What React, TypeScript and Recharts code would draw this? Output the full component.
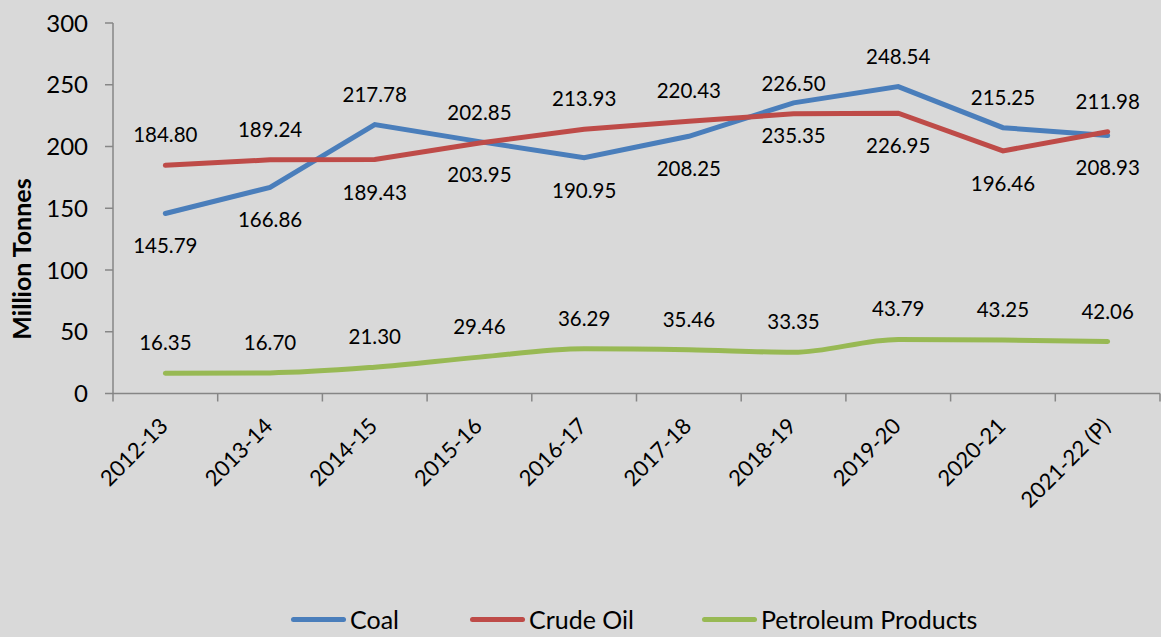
import React from 'react';
import { LineChart, Line, XAxis, YAxis } from 'recharts';

const years = ['2012-13', '2013-14', '2014-15', '2015-16', '2016-17', '2017-18', '2018-19', '2019-20', '2020-21', '2021-22 (P)'];
const coal = [145.79, 166.86, 217.78, 203.95, 190.95, 208.25, 235.35, 248.54, 215.25, 208.93];
const crudeOil = [184.80, 189.24, 189.43, 202.85, 213.93, 220.43, 226.50, 226.95, 196.46, 211.98];
const petroleum = [16.35, 16.70, 21.30, 29.46, 36.29, 35.46, 33.35, 43.79, 43.25, 42.06];
const yTicks = [0, 50, 100, 150, 200, 250, 300];

// where each value label sits relative to its point
const coalLabelSide = ['down', 'down', 'up', 'down', 'down', 'down', 'down', 'up', 'up', 'down'];
const crudeLabelSide = ['up', 'up', 'down', 'up', 'up', 'up', 'up', 'down', 'down', 'up'];
const petroLabelSide = ['up', 'up', 'up', 'up', 'up', 'up', 'up', 'up', 'up', 'up'];

const data = years.map((year, i) => ({
  year,
  coal: coal[i],
  crude: crudeOil[i],
  petro: petroleum[i],
}));

const W = 1161;
const H = 637;
const AXIS_W = 113;
const PLOT_TOP = 23;
const PLOT_BOTTOM = 393.5;
const RIGHT = 1;
const BAND = (W - AXIS_W - RIGHT) / years.length;
const FONT = 'Lato, "Open Sans", sans-serif';
const GRAY = '#868686';

const makeLabel = (sides: string[]) => (props: any) => {
  const { x, y, value, index } = props;
  const dy = sides[index] === 'up' ? -31 : 32;
  return (
    <text x={x} y={y + dy} textAnchor="middle" dominantBaseline="central" fontSize={20.5} fill="#000" fontFamily={FONT}>
      {Number(value).toFixed(2)}
    </text>
  );
};

const XTick = (props: any) => {
  const { x, y, payload, index } = props;
  const left = x - BAND / 2;
  const ax = x + 4;
  const ay = y + 34;
  return (
    <g>
      <line x1={left} y1={y} x2={left} y2={y + 8} stroke={GRAY} strokeWidth={1.5} />
      {index === years.length - 1 && (
        <line x1={x + BAND / 2} y1={y} x2={x + BAND / 2} y2={y + 8} stroke={GRAY} strokeWidth={1.5} />
      )}
      <text
        x={ax}
        y={ay}
        textAnchor="end"
        transform={`rotate(-45 ${ax} ${ay})`}
        fontSize={22}
        fill="#000"
        fontFamily={FONT}
      >
        {payload.value}
      </text>
    </g>
  );
};

const legendItems = [
  { name: 'Coal', color: '#4a7ebb', left: 291 },
  { name: 'Crude Oil', color: '#be4b48', left: 470 },
  { name: 'Petroleum Products', color: '#98b954', left: 702 },
];

const App = () => {
  return (
    <div style={{ position: 'absolute', left: 0, top: 0, width: W, height: H, background: '#d9d9d9', fontFamily: FONT }}>
      <LineChart
        width={W}
        height={H}
        data={data}
        margin={{ top: PLOT_TOP, right: RIGHT, left: 0, bottom: 0 }}
      >
        <XAxis
          dataKey="year"
          height={H - PLOT_BOTTOM}
          interval={0}
          tickLine={false}
          tickSize={0}
          tickMargin={0}
          axisLine={{ stroke: GRAY, strokeWidth: 1.5 }}
          tick={<XTick />}
          padding={{ left: BAND / 2, right: BAND / 2 }}
        />
        <YAxis
          width={AXIS_W}
          domain={[0, 300]}
          ticks={yTicks}
          interval={0}
          tickSize={8}
          tickMargin={17}
          axisLine={{ stroke: GRAY, strokeWidth: 1.5 }}
          tickLine={{ stroke: GRAY, strokeWidth: 1.5 }}
          tick={{ fill: '#000', fontSize: 24, fontFamily: FONT }}
        />
        <Line
          type="linear"
          dataKey="coal"
          stroke="#4a7ebb"
          strokeWidth={5}
          strokeLinecap="round"
          dot={false}
          isAnimationActive={false}
          label={makeLabel(coalLabelSide)}
        />
        <Line
          type="linear"
          dataKey="crude"
          stroke="#be4b48"
          strokeWidth={5}
          strokeLinecap="round"
          dot={false}
          isAnimationActive={false}
          label={makeLabel(crudeLabelSide)}
        />
        <Line
          type="monotone"
          dataKey="petro"
          stroke="#98b954"
          strokeWidth={5}
          strokeLinecap="round"
          dot={false}
          isAnimationActive={false}
          label={makeLabel(petroLabelSide)}
        />
      </LineChart>
      <div
        style={{
          position: 'absolute',
          left: 21,
          top: 259,
          transform: 'translate(-50%, -50%) rotate(-90deg)',
          fontWeight: 'bold',
          fontSize: 25,
          whiteSpace: 'nowrap',
          color: '#000',
        }}
      >
        Million Tonnes
      </div>
      {legendItems.map((item) => (
        <div
          key={item.name}
          style={{ position: 'absolute', left: item.left, top: 605, height: 28, display: 'flex', alignItems: 'center' }}
        >
          <div style={{ width: 55, height: 5, borderRadius: 3, background: item.color, marginRight: 4 }} />
          <span style={{ fontSize: 25, color: '#000' }}>{item.name}</span>
        </div>
      ))}
    </div>
  );
};

export default App;
